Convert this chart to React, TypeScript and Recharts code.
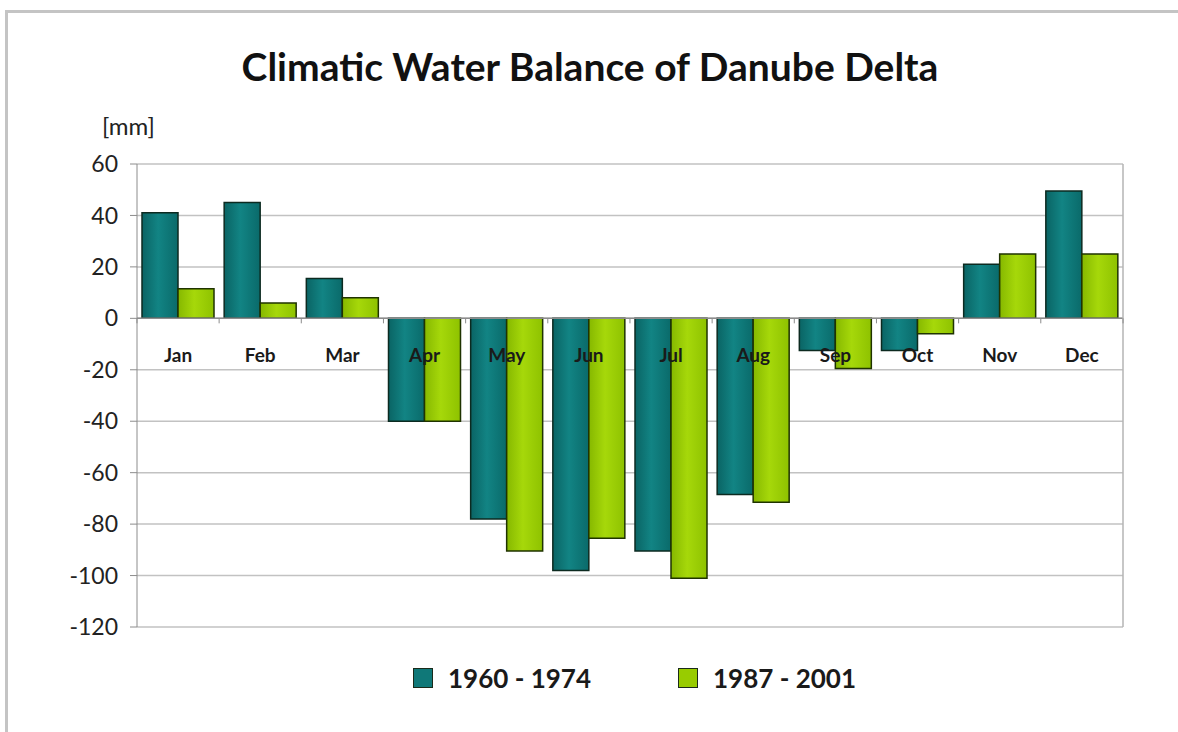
import React from "react";
import {
  BarChart,
  Bar,
  XAxis,
  YAxis,
  CartesianGrid,
  ReferenceLine,
  Legend,
} from "recharts";

const months = ["Jan", "Feb", "Mar", "Apr", "May", "Jun", "Jul", "Aug", "Sep", "Oct", "Nov", "Dec"];
const period1960 = [41, 45, 15.5, -40, -78, -98, -90.5, -68.5, -12.5, -12.5, 21, 49.5];
const period1987 = [11.5, 6, 8, -40, -90.5, -85.5, -101, -71.5, -19.5, -6, 25, 25];
const yTicks = [60, 40, 20, 0, -20, -40, -60, -80, -100, -120];
const seriesNames = ["1960 - 1974", "1987 - 2001"];
const swatch: Record<string, string> = { a: "#0f7878", b: "#98cc00" };

const Y_MIN = -120;
const Y_MAX = 60;

const W = 1178;
const H = 732;
const X_AXIS_H = 1;
const M = { top: 164, right: 54, bottom: 105 - X_AXIS_H, left: 0 };
const PLOT_H = H - M.top - M.bottom - X_AXIS_H;
const ZERO_Y = M.top + (PLOT_H * Y_MAX) / (Y_MAX - Y_MIN);

const FONT = "Lato, 'Open Sans', sans-serif";

const data = months.map((m, i) => ({
  month: m,
  a: period1960[i],
  b: period1987[i],
}));

// month names sit just under the zero line, with small boundary ticks
const MonthTick = (props: any) => {
  const { x, payload, index } = props;
  const band = (W - M.right - 137) / months.length;
  const left = x - band / 2;
  const right = x + band / 2;
  const last = index === months.length - 1;
  return (
    <g>
      <line x1={left} x2={left} y1={ZERO_Y} y2={ZERO_Y + 5} stroke="#8c8c8c" />
      {last && <line x1={right} x2={right} y1={ZERO_Y} y2={ZERO_Y + 5} stroke="#8c8c8c" />}
      <text
        x={x}
        y={ZERO_Y + 44}
        textAnchor="middle"
        fontFamily={FONT}
        fontWeight={700}
        fontSize={19}
        fill="#1a1a1a"
      >
        {payload.value}
      </text>
    </g>
  );
};

const LegendBox = (props: any) => {
  const items = props.payload || [];
  return (
    <div style={{ display: "flex", justifyContent: "center", gap: 87, paddingLeft: 91 }}>
      {items.map((it: any) => (
        <div key={it.value} style={{ display: "flex", alignItems: "center" }}>
          <span
            style={{
              display: "inline-block",
              width: 18,
              height: 18,
              background: swatch[it.dataKey] ?? it.color,
              border: "1px solid #1a2a1a",
              marginRight: 15,
            }}
          />
          <span style={{ fontFamily: FONT, fontWeight: 700, fontSize: 26, color: "#1a1a1a" }}>
            {it.value}
          </span>
        </div>
      ))}
    </div>
  );
};

export default function App() {
  return (
    <div
      style={{
        position: "absolute",
        left: 0,
        top: 0,
        width: W,
        height: H,
        background: "#fff",
        overflow: "hidden",
      }}
    >
      <div
        style={{
          position: "absolute",
          left: 5,
          top: 10,
          width: W,
          height: H,
          borderLeft: "3px solid #c4c4c4",
          borderTop: "3px solid #c4c4c4",
        }}
      />
      <div
        style={{
          position: "absolute",
          left: 0,
          width: 1180,
          top: 43,
          textAlign: "center",
          fontFamily: FONT,
          fontWeight: 700,
          fontSize: 39,
          color: "#111",
        }}
      >
        Climatic Water Balance of Danube Delta
      </div>
      <div
        style={{
          position: "absolute",
          left: 102,
          top: 111,
          fontFamily: FONT,
          fontSize: 24,
          color: "#222",
        }}
      >
        [mm]
      </div>
      <div style={{ position: "absolute", left: 0, top: 0 }}>
        <BarChart
          width={W}
          height={H}
          data={data}
          margin={M}
          barCategoryGap={5}
          barGap={0}
        >
          <defs>
            <linearGradient id="gTeal" x1="0" y1="0" x2="1" y2="0">
              <stop offset="0%" stopColor="#0a6464" />
              <stop offset="45%" stopColor="#128484" />
              <stop offset="100%" stopColor="#0a6a6a" />
            </linearGradient>
            <linearGradient id="gGreen" x1="0" y1="0" x2="1" y2="0">
              <stop offset="0%" stopColor="#86b800" />
              <stop offset="45%" stopColor="#a6d80a" />
              <stop offset="100%" stopColor="#8ec200" />
            </linearGradient>
          </defs>
          <CartesianGrid vertical={false} stroke="#c2c2c2" strokeWidth={1.5} />
          <XAxis
            dataKey="month"
            axisLine={false}
            tickLine={false}
            tick={(p: any) => <MonthTick {...p} />}
            interval={0}
            height={X_AXIS_H}
          />
          <YAxis
            width={137}
            domain={[Y_MIN, Y_MAX]}
            ticks={yTicks}
            interval={0}
            stroke="#8c8c8c"
            tickSize={7}
            tickMargin={12}
            tick={{ fontFamily: FONT, fontSize: 23, fill: "#222" }}
          />
          <YAxis
            yAxisId="frame"
            orientation="right"
            width={1}
            domain={[Y_MIN, Y_MAX]}
            tick={false}
            tickLine={false}
            stroke="#b4b4b4"
            strokeWidth={1.5}
          />
          <ReferenceLine y={0} stroke="#8c8c8c" strokeWidth={1.5} />
          <Bar
            dataKey="a"
            name={seriesNames[0]}
            fill="url(#gTeal)"
            stroke="#0c2a20"
            strokeWidth={1.5}
            isAnimationActive={false}
          />
          <Bar
            dataKey="b"
            name={seriesNames[1]}
            fill="url(#gGreen)"
            stroke="#1f3300"
            strokeWidth={1.5}
            isAnimationActive={false}
          />
          <Legend
            content={<LegendBox />}
            verticalAlign="middle"
            wrapperStyle={{ position: "absolute", top: 662, left: 0, width: W }}
          />
        </BarChart>
      </div>
    </div>
  );
}
